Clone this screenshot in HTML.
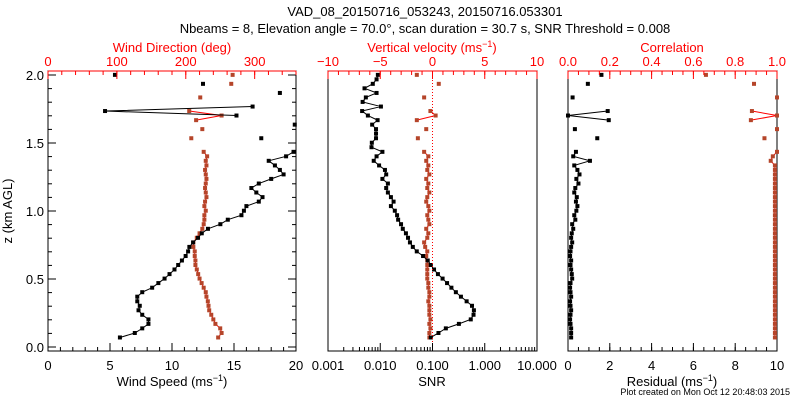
<!DOCTYPE html>
<html><head><meta charset="utf-8"><style>
body{margin:0;background:#fff}
svg{display:block;font-family:"Liberation Sans","DejaVu Sans",sans-serif}
</style></head><body>
<svg id="c" width="800" height="400" viewBox="0 0 800 400">
<text x="425" y="16" font-size="13" text-anchor="middle">VAD_08_20150716_053243, 20150716.053301</text>
<text x="425" y="33" font-size="13" text-anchor="middle">Nbeams = 8, Elevation angle = 70.0°, scan duration = 30.7 s, SNR Threshold = 0.008</text>
<text x="790" y="395" font-size="9" text-anchor="end">Plot created on Mon Oct 12 20:48:03 2015</text>
</svg>
<script>
const N=null;
const heights=[];for(let i=0;i<=58;i++)heights.push(+(0.07+0.0333*i).toFixed(3));
const windSpeed=[5.8,7.0,7.6,8.1,8.1,7.6,7.3,7.4,7.2,7.2,7.6,8.4,8.9,9.4,9.8,10.2,10.5,10.8,11.1,11.3,11.4,11.7,12.1,12.4,12.9,13.9,14.5,15.6,15.8,16.0,17.0,17.3,16.8,16.4,17.0,18.0,19.0,18.7,18.3,17.8,19.2,19.8,N,N,17.2,N,N,19.9,N,15.2,4.6,16.5,N,N,18.7,N,12.5,N,5.4];
const windDir=[247,252,250,243,240,237,234,233,232,230,229,226,223,220,218,216,214,214,213,213,211,211,216,220,224,226,227,227,229,227,228,230,229,228,229,230,229,228,230,229,231,226,N,N,208,N,224,N,215,252,205,N,N,221,N,N,266,N,268];
const snr=[0.093,0.13,0.18,0.32,0.54,0.61,0.62,0.57,0.45,0.35,0.28,0.23,0.19,0.156,0.127,0.107,0.093,0.081,0.066,0.05,0.042,0.037,0.034,0.031,0.027,0.025,0.022,0.021,0.019,0.016,0.018,0.016,0.014,0.013,0.014,0.011,0.013,0.0123,0.0095,0.0075,0.0085,0.011,0.0068,0.0069,0.0083,0.0083,0.0083,0.0070,0.0089,0.0058,0.0045,0.0103,0.0046,0.0053,0.0085,0.0050,0.0072,0.0085,0.009];
const wVel=[-0.3,-0.3,-0.2,-0.3,-0.2,-0.3,-0.3,-0.3,-0.4,-0.3,-0.3,-0.4,-0.4,-0.5,-0.5,-0.5,-0.5,-0.5,-0.6,-0.5,-0.7,-0.8,-0.5,-0.4,-0.6,-0.3,-0.4,-0.5,-0.3,-0.4,-0.6,-0.5,-0.3,-0.5,-0.4,-0.6,-0.3,-0.5,-0.4,-0.6,-0.4,-0.8,N,N,-1.4,N,-0.6,N,-1.5,0.3,-0.2,N,N,-0.8,N,N,0.6,N,-1.5];
const residual=[0.15,0.15,0.15,0.12,0.1,0.12,0.15,0.12,0.1,0.15,0.12,0.1,0.12,0.2,0.18,0.15,0.12,0.15,0.1,0.12,0.15,0.2,0.15,0.18,0.25,0.2,0.35,0.3,0.4,0.45,0.38,0.42,0.3,0.35,0.5,0.4,0.55,0.45,0.3,1.05,0.25,0.38,N,N,1.4,N,0.33,N,1.95,0.0,1.9,N,N,0.22,N,N,0.95,N,1.6];
const correlation=[0.99,0.99,0.99,0.99,0.99,0.99,0.99,0.99,0.99,0.99,0.99,0.99,0.99,0.99,0.99,0.99,0.99,0.99,0.99,0.99,0.99,0.99,0.99,0.99,0.99,0.99,0.99,0.99,0.99,0.99,0.99,0.99,0.99,0.99,0.99,0.99,0.99,0.99,0.99,0.97,0.98,1.0,N,N,0.94,N,1.0,N,0.875,1.0,0.88,N,N,1.0,N,N,0.89,N,0.66];
const yTicks=[0,0.5,1.0,1.5,2.0];
const speedTicks=[0,5,10,15,20];
const dirTicks=[0,100,200,300];
const snrTicks=["0.001","0.010","0.100","1.000","10.000"];
const wTicks=[-10,-5,0,5,10];
const resTicks=[0,2,4,6,8,10];
const corTicks=["0.0","0.2","0.4","0.6","0.8","1.0"];

(function(){
const svg=document.getElementById('c');const NS='http://www.w3.org/2000/svg';
function el(t,a,txt){const e=document.createElementNS(NS,t);for(const k in a)e.setAttribute(k,a[k]);if(txt!==undefined)e.textContent=txt;svg.appendChild(e);return e;}
const Y=z=>347-z*136;
const BT=71,BB=351;
const RED='#ff0000',BR='#b5452a';
const P=[{x0:48,x1:296},{x0:328,x1:537},{x0:568,x1:777}];
const sx=(p,lo,hi)=>v=>p.x0+(v-lo)/(hi-lo)*(p.x1-p.x0);
const spd=sx(P[0],0,20),dir=sx(P[0],0,360);
const snrX=v=>P[1].x0+(Math.log10(v)+3)/4*(P[1].x1-P[1].x0);
const wX=sx(P[1],-10,10),resX=sx(P[2],0,10),corX=sx(P[2],0,1);

P.forEach((p,i)=>{const r=el('rect',{x:p.x0,y:BT,width:p.x1-p.x0,height:BB-BT,fill:'none',stroke:'#000','stroke-width':1});


el('line',{x1:p.x0,y1:BT,x2:p.x1,y2:BT,stroke:RED});});

function series(vals,fx,color,lineColor,name){
  let seg=[];const segs=[];
  vals.forEach((v,i)=>{if(v===null){if(seg.length)segs.push(seg);seg=[];}else seg.push([fx(v),Y(heights[i])]);});
  if(seg.length)segs.push(seg);
  segs.forEach(s=>{if(s.length>1){const pl=el('polyline',{points:s.map(q=>q.join(',')).join(' '),fill:'none',stroke:lineColor,'stroke-width':1});
    
    }});
  vals.forEach((v,i)=>{if(v===null)return;const x=fx(v),y=Y(heights[i]);
    const m=el('rect',{x:x-2,y:y-2,width:4,height:4,fill:color});
    
    });
}
series(windDir,dir,BR,RED,'wind-direction');
series(windSpeed,spd,'#000','#000','wind-speed');
series(wVel,wX,BR,RED,'vertical-velocity');
series(snr,snrX,'#000','#000','snr');
series(correlation,corX,BR,RED,'correlation');
series(residual,resX,'#000','#000','residual');
const zl=el('line',{x1:wX(0),y1:BT,x2:wX(0),y2:BB,stroke:RED,'stroke-dasharray':'1,2'});



for(let k=0;k<=20;k++){const z=k/10;const L=(k%5===0)?8:4;
  el('line',{x1:P[0].x0,y1:Y(z),x2:P[0].x0+L,y2:Y(z),stroke:'#000'});el('line',{x1:P[0].x1,y1:Y(z),x2:P[0].x1-L,y2:Y(z),stroke:'#000'});}
yTicks.forEach(t=>{const e=el('text',{x:44,y:Y(t)+5,'font-size':13,'text-anchor':'end'},t.toFixed(1));
  
  });
const yt=el('text',{x:0,y:0,'font-size':13,'text-anchor':'middle',transform:'translate(12,211) rotate(-90)'},'z (km AGL)');



function bottomAxis(ticks,fx,minor){
  minor.forEach(v=>el('line',{x1:fx(v),y1:BB,x2:fx(v),y2:BB-4,stroke:'#000'}));
  ticks.forEach(t=>{const v=+t;el('line',{x1:fx(v),y1:BB,x2:fx(v),y2:BB-8,stroke:'#000'});
    const e=el('text',{x:fx(v),y:370,'font-size':13,'text-anchor':'middle'},String(t));
    
    });
}
function topAxis(ticks,fx,minor){
  minor.forEach(v=>el('line',{x1:fx(v),y1:BT,x2:fx(v),y2:BT+4,stroke:RED}));
  ticks.forEach(t=>{const v=+t;el('line',{x1:fx(v),y1:BT,x2:fx(v),y2:BT+8,stroke:RED});
    const e=el('text',{x:fx(v),y:66,'font-size':13,'text-anchor':'middle',fill:RED},String(t).replace('-','\u2212'));
    
    });
}
const rng=(a,b,s)=>{const r=[];const n=Math.round((b-a)/s);for(let k=0;k<=n;k++)r.push(a+k*s);return r;};
bottomAxis(speedTicks,spd,rng(0,20,1));
topAxis(dirTicks,dir,rng(0,360,20));
const snrMinor=[];for(let d=-3;d<1;d++)for(let k=2;k<10;k++)snrMinor.push(k*Math.pow(10,d));
bottomAxis(snrTicks,snrX,snrMinor);
topAxis(wTicks,wX,rng(-10,10,1));
bottomAxis(resTicks,resX,rng(0,10,0.5));
topAxis(corTicks,corX,rng(0,1,0.05));

function axTitle(x,y,txt,sup,fill,name){const e=el('text',{x:x,y:y,'font-size':13,'text-anchor':'middle',fill:fill});
  
  
  e.appendChild(document.createTextNode(txt));
  if(sup){const s=document.createElementNS(NS,'tspan');s.setAttribute('dy','-5');s.setAttribute('font-size','9');s.textContent=sup;e.appendChild(s);
    const c=document.createElementNS(NS,'tspan');c.setAttribute('dy','5');c.textContent=')';e.appendChild(c);}}
axTitle(172,386,'Wind Speed (ms','\u22121','#000','x-axis-title-wind-speed');
axTitle(172,52,'Wind Direction (deg)',null,RED,'top-axis-title-wind-direction');
axTitle(432,386,'SNR',null,'#000','x-axis-title-snr');
axTitle(432,52,'Vertical velocity (ms','\u22121',RED,'top-axis-title-vertical-velocity');
axTitle(672,386,'Residual (ms','\u22121','#000','x-axis-title-residual');
axTitle(672,52,'Correlation',null,RED,'top-axis-title-correlation');
})();
</script>
</body></html>
